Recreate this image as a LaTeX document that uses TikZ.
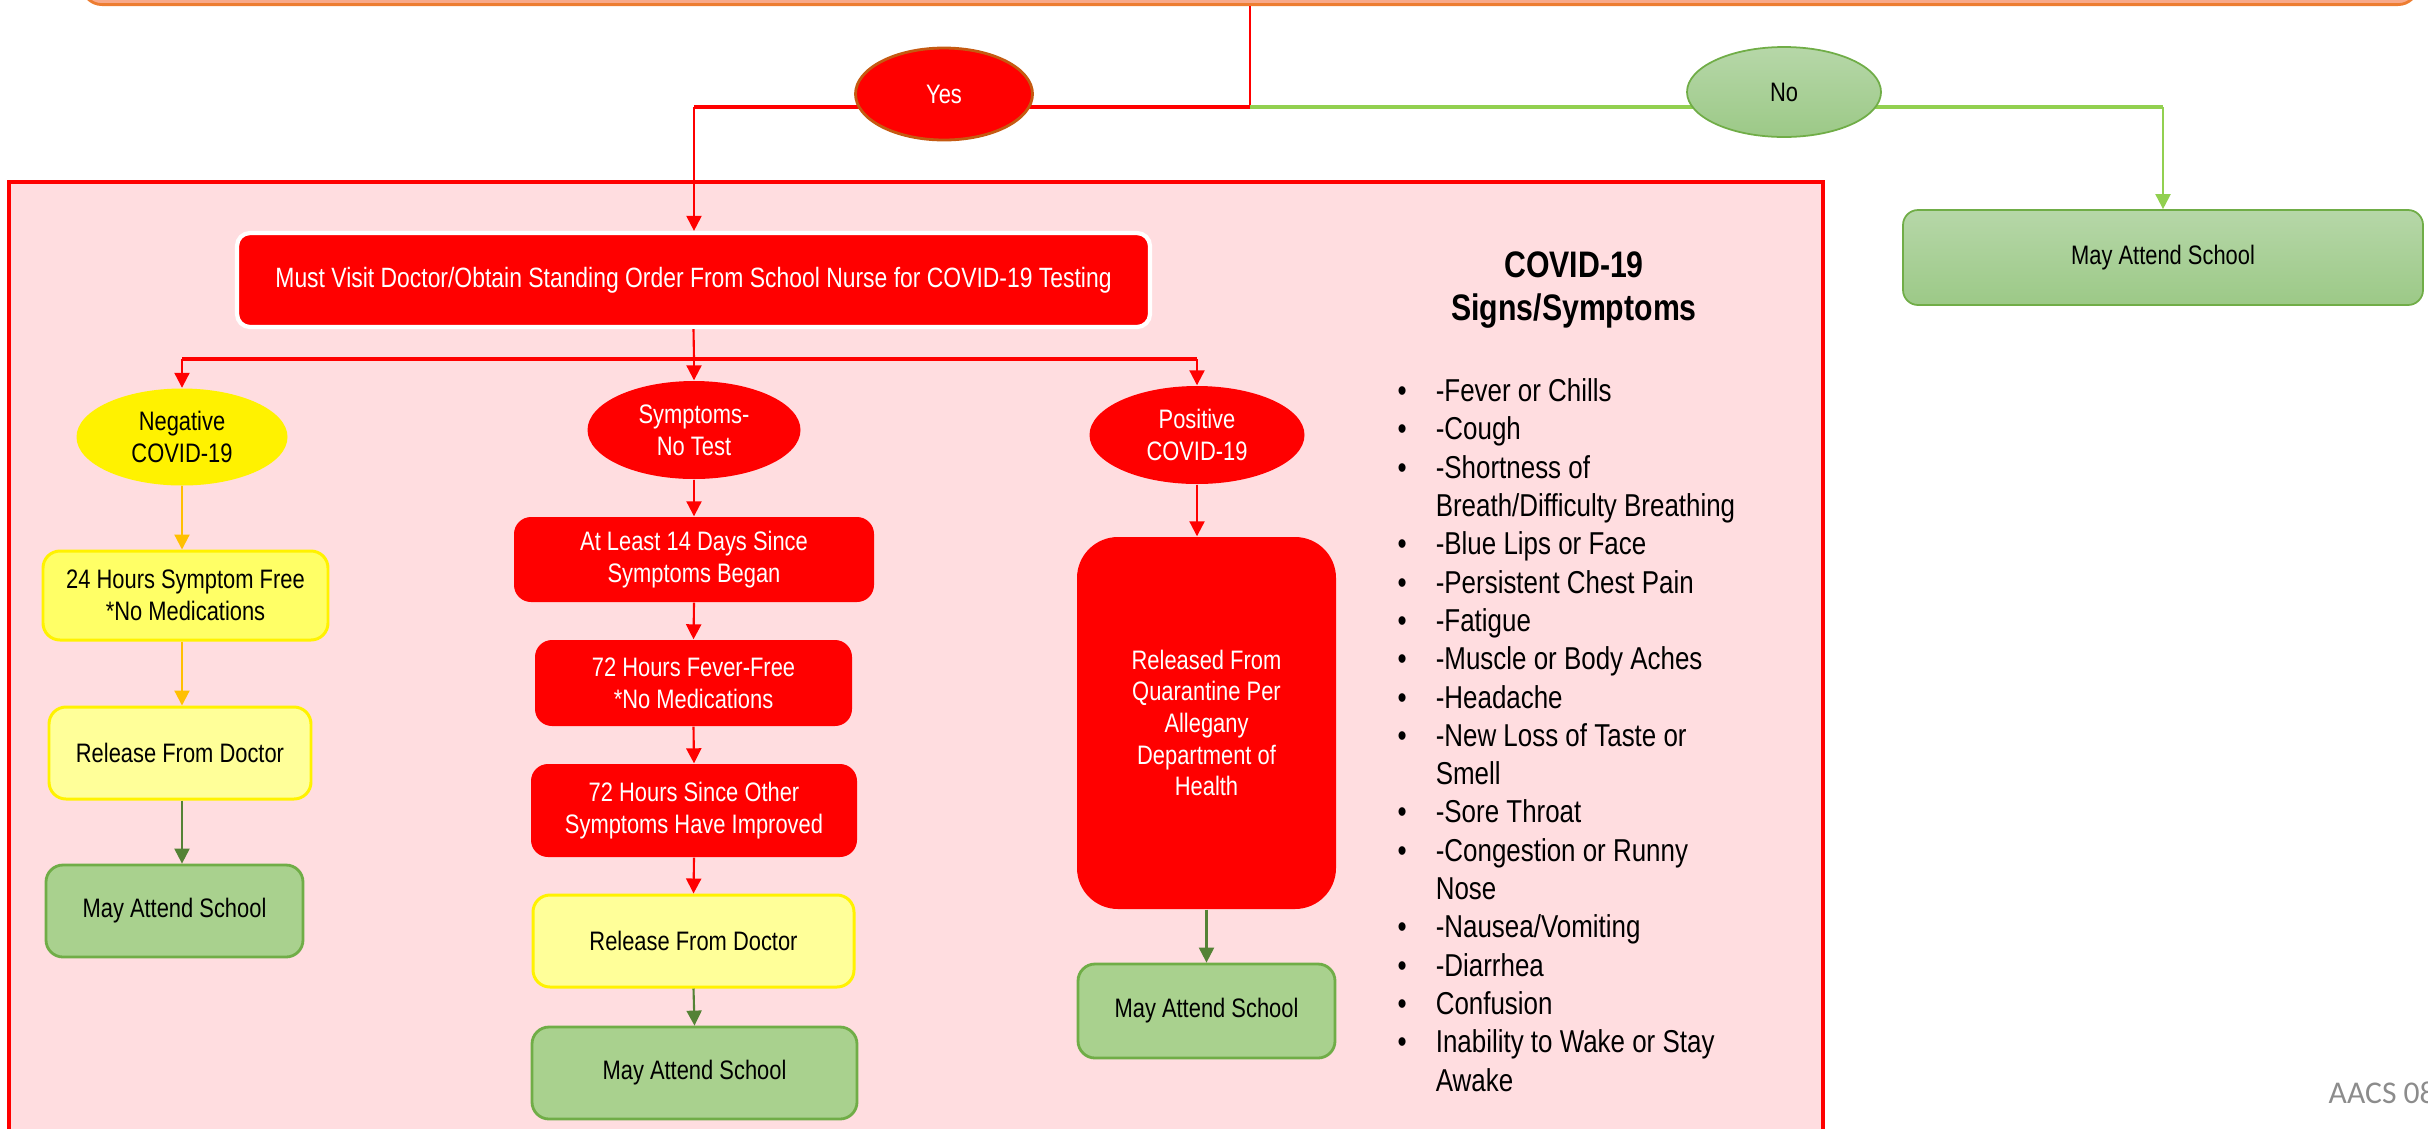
\documentclass[tikz,border=0pt]{standalone}
\usepackage{fontspec}
\setmainfont{Liberation Sans}[FakeStretch=0.82]
\newfontfamily\stampfont{Carlito}
\usepackage{xcolor}
\usetikzlibrary{arrows.meta, positioning, shapes.geometric, calc}

\definecolor{alertred}{HTML}{FF0000}
\definecolor{panelpink}{HTML}{FFDDE0}
\definecolor{askorange}{HTML}{F8A98A}
\definecolor{askedge}{HTML}{ED7D31}
\definecolor{goldline}{HTML}{FFC000}
\definecolor{paleyellow}{HTML}{FFFF99}
\definecolor{midyellow}{HTML}{FFFF66}
\definecolor{okgreen}{HTML}{A9D18E}
\definecolor{okedge}{HTML}{70AD47}
\definecolor{darkgreen}{HTML}{548235}
\definecolor{limegreen}{HTML}{92D050}
\definecolor{lightgreen}{HTML}{B6D7A8}
\definecolor{deepgreen}{HTML}{9CC987}
\definecolor{yesedge}{HTML}{C55A11}
\definecolor{stampgray}{HTML}{8C8C8C}

\begin{document}
\begin{tikzpicture}[
    boxtext/.style={font=\fontsize{7.6}{9}\selectfont, align=center, inner sep=0pt},
    redbox/.style={boxtext, rectangle, rounded corners=0.17cm, fill=alertred, text=white},
    yellowbox/.style={boxtext, rectangle, rounded corners=0.17cm, draw=yellow, line width=0.85pt},
    greenbox/.style={boxtext, rectangle, rounded corners=0.17cm, fill=okgreen, draw=okedge, line width=0.8pt},
    shadebox/.style={boxtext, top color=lightgreen, bottom color=deepgreen, draw=okedge, line width=0.5pt},
    oval/.style={boxtext, ellipse},
    tip/.style={-{Triangle[length=0.15cm, width=0.15cm]}},
    redarrow/.style={tip, alertred, line width=0.6pt},
    goldarrow/.style={tip, goldline, line width=0.6pt},
    greenarrow/.style={tip, darkgreen, line width=0.6pt},
    limearrow/.style={tip, limegreen, line width=0.6pt},
    redbar/.style={alertred, line width=0.9pt},
    greenbar/.style={limegreen, line width=0.9pt}
]
\useasboundingbox (0,0) rectangle (24.28,-11.28);

% Background panel and question bar
\draw[panelpink, fill=panelpink] (0.09,-1.82) rectangle (18.23,-11.6);
\draw[alertred, line width=0.9pt] (0.09,-11.6) -- (0.09,-1.82) -- (18.23,-1.82) -- (18.23,-11.6);
\node[rectangle, rounded corners=0.2cm, fill=askorange, draw=askedge, line width=0.8pt,
      minimum width=23.36cm, minimum height=1cm, anchor=south] (question) at (12.50,-0.06) {};

% Main steps
\node[redbox, draw=white, line width=1.2pt, rounded corners=0.13cm, font=\fontsize{7.95}{9}\selectfont,
      minimum width=9.13cm, minimum height=0.94cm] (visit) at (6.935,-2.80)
    {Must Visit Doctor/Obtain Standing Order From School Nurse for COVID-19 Testing};
\node[oval, fill=yellow, minimum width=2.11cm, minimum height=0.97cm] (neg) at (1.82,-4.37) {Negative\\COVID-19};
\node[oval, fill=alertred, text=white, minimum width=2.13cm, minimum height=0.98cm] (sym) at (6.94,-4.30) {Symptoms-\\No Test};
\node[oval, fill=alertred, text=white, minimum width=2.15cm, minimum height=0.98cm] (pos) at (11.97,-4.35) {Positive\\COVID-19};

% Negative column
\node[yellowbox, fill=midyellow, minimum width=2.85cm, minimum height=0.89cm] (h24) at (1.855,-5.955) {24 Hours Symptom Free\\*No Medications};
\node[yellowbox, fill=paleyellow, minimum width=2.62cm, minimum height=0.92cm] (relL) at (1.80,-7.53) {Release From Doctor};
\node[greenbox, minimum width=2.57cm, minimum height=0.92cm] (mayL) at (1.745,-9.11) {May Attend School};

% Symptoms column
\node[redbox, minimum width=3.60cm, minimum height=0.85cm] (least) at (6.94,-5.595) {At Least 14 Days Since\\Symptoms Began};
\node[redbox, minimum width=3.17cm, minimum height=0.86cm] (fever) at (6.935,-6.83) {72 Hours Fever-Free\\*No Medications};
\node[redbox, minimum width=3.26cm, minimum height=0.93cm] (since) at (6.94,-8.105) {72 Hours Since Other\\Symptoms Have Improved};
\node[yellowbox, fill=paleyellow, minimum width=3.21cm, minimum height=0.92cm] (relM) at (6.935,-9.41) {Release From Doctor};
\node[greenbox, minimum width=3.25cm, minimum height=0.92cm] (mayM) at (6.945,-10.73) {May Attend School};

% Positive column
\node[redbox, rounded corners=0.41cm, minimum width=2.59cm, minimum height=3.72cm] (quar) at (12.065,-7.23)
    {Released From\\Quarantine Per\\Allegany\\Department of\\Health};
\node[greenbox, minimum width=2.57cm, minimum height=0.94cm] (mayR) at (12.065,-10.11) {May Attend School};

% No branch
\node[shadebox, rectangle, rounded corners=0.15cm, minimum width=5.20cm, minimum height=0.95cm] (mayTop) at (21.63,-2.575) {May Attend School};

% Signs and symptoms
\node[font=\bfseries\fontsize{10.5}{12}\selectfont, align=center, inner sep=0pt] (title) at (15.74,-2.90) {COVID-19\\Signs/Symptoms};
\node[font=\fontsize{9}{10.9}\selectfont, anchor=north west, inner sep=0pt] (signs) at (13.97,-3.74) {%
  \begin{tabular}{@{}l@{\hspace{0.29cm}}l@{}}
  \textbullet & -Fever or Chills\\
  \textbullet & -Cough\\
  \textbullet & -Shortness of\\
              & Breath/Difficulty Breathing\\
  \textbullet & -Blue Lips or Face\\
  \textbullet & -Persistent Chest Pain\\
  \textbullet & -Fatigue\\
  \textbullet & -Muscle or Body Aches\\
  \textbullet & -Headache\\
  \textbullet & -New Loss of Taste or\\
              & Smell\\
  \textbullet & -Sore Throat\\
  \textbullet & -Congestion or Runny\\
              & Nose\\
  \textbullet & -Nausea/Vomiting\\
  \textbullet & -Diarrhea\\
  \textbullet & Confusion\\
  \textbullet & Inability to Wake or Stay\\
              & Awake
  \end{tabular}};

\node[font=\stampfont\fontsize{9}{11}\selectfont, text=stampgray, anchor=base west, inner sep=0pt] (stamp) at (23.28,-11.03) {AACS 08};

% Yes / No split
\coordinate (fork) at (question.south |- 0,-1.07);
\coordinate (yesturn) at (6.94,-1.07);
\coordinate (noturn) at (21.63,-1.07);
\draw[alertred, line width=0.5pt] (question.south) -- (fork);
\draw[redbar] (fork) -- (yesturn);
\draw[redarrow] (yesturn) -- (yesturn |- visit.north);
\draw[greenbar] (fork) -- (noturn);
\draw[limearrow] (noturn) -- (noturn |- mayTop.north);

\node[oval, fill=alertred, draw=yesedge, line width=0.8pt, text=white, minimum width=1.77cm, minimum height=0.92cm] (yes) at (9.44,-0.94) {Yes};
\node[oval, shadebox, ellipse, minimum width=1.94cm, minimum height=0.90cm] (no) at (17.84,-0.92) {No};

% Test results
\coordinate (split) at (6.94,-3.59);
\draw[alertred, line width=0.6pt] (visit.south) -- (split);
\draw[redbar] (split -| neg.north) -- (split -| pos.north);
\draw[redarrow] (split -| neg.north) -- (neg.north);
\draw[redarrow] (split) -- (sym.north);
\draw[redarrow] (split -| pos.north) -- (pos.north);

% Steps down each column
\draw[goldarrow] (neg.south) -- (neg.south |- h24.north);
\draw[goldarrow] (neg.south |- h24.south) -- (neg.south |- relL.north);
\draw[greenarrow] (neg.south |- relL.south) -- (neg.south |- mayL.north);
\draw[redarrow] (sym.south) -- (least.north);
\draw[redarrow] (least.south) -- (fever.north);
\draw[redarrow] (fever.south) -- (since.north);
\draw[redarrow] (since.south) -- (relM.north);
\draw[greenarrow] (relM.south) -- (mayM.north);
\draw[redarrow] (pos.south) -- (pos.south |- quar.north);
\draw[greenarrow] (quar.south) -- (mayR.north);

\end{tikzpicture}
\end{document}
